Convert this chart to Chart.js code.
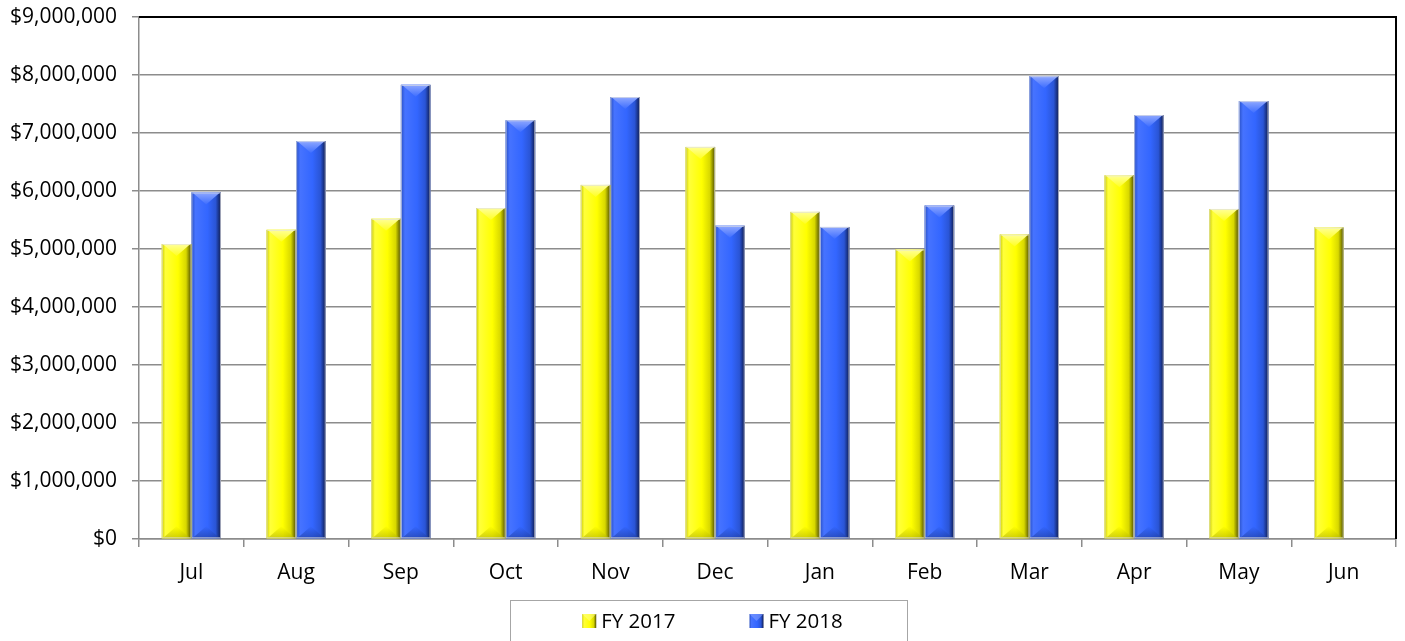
<!DOCTYPE html>
<html>
<head>
<meta charset="utf-8">
<script src="https://cdn.jsdelivr.net/npm/chart.js@4"></script>
<style>
  html, body { margin: 0; padding: 0; background: #ffffff; }
  #wrap { width: 1405px; height: 641px; position: relative; }
</style>
</head>
<body>
<div id="wrap"><canvas id="c" width="1405" height="641"></canvas></div>
<script>
const months = ['Jul','Aug','Sep','Oct','Nov','Dec','Jan','Feb','Mar','Apr','May','Jun'];
const fy2017 = [5085000, 5330000, 5520000, 5705000, 6105000, 6760000, 5640000, 4990000, 5250000, 6270000, 5690000, 5370000];
const fy2018 = [5975000, 6860000, 7830000, 7220000, 7620000, 5400000, 5380000, 5750000, 7980000, 7310000, 7550000, null];
const seriesNames = ['FY 2017', 'FY 2018'];
const yTickMin = 0, yTickMax = 9000000, yTickStep = 1000000;

const FONT = '"Open Sans", "Noto Sans", sans-serif';

const palettes = [
  { base: '#ffff00', stops: [[0,'#c9c900'],[0.12,'#ffff3a'],[0.55,'#ffff00'],[0.82,'#d8d800'],[1,'#4d4d00']],
    top: ['#ffff9a','#ffff20'], bottom: ['#b0b000','#ffff00'] },
  { base: '#3366ff', stops: [[0,'#284fc4'],[0.14,'#4673ff'],[0.55,'#3366ff'],[0.82,'#2a55d6'],[1,'#0d1a4d']],
    top: ['#8fa8ff','#3d6dff'], bottom: ['#1d3a99','#3366ff'] }
];

const bevelPlugin = {
  id: 'bevel',
  afterDatasetDraw(chart, args) {
    const ctx = chart.ctx;
    const meta = args.meta;
    const pal = palettes[args.index];
    ctx.save();
    const area = chart.chartArea;
    ctx.beginPath();
    ctx.rect(area.left, area.top, area.right - area.left, area.bottom - area.top + 1);
    ctx.clip();
    meta.data.forEach((el, i) => {
      const v = chart.data.datasets[args.index].data[i];
      if (v === null || v === undefined) return;
      const p = el.getProps(['x','y','base','width'], true);
      const l = p.x - p.width / 2, r = p.x + p.width / 2;
      const t = p.y, b = p.base;
      const g = ctx.createLinearGradient(l, 0, r, 0);
      pal.stops.forEach(s => g.addColorStop(s[0], s[1]));
      ctx.fillStyle = g;
      ctx.fillRect(l, t, r - l, b - t);
      const depth = Math.min(12, (r - l) * 0.42, (b - t) / 2);
      const gt = ctx.createLinearGradient(0, t, 0, t + depth);
      gt.addColorStop(0, pal.top[0]);
      gt.addColorStop(1, pal.top[1]);
      ctx.fillStyle = gt;
      ctx.beginPath();
      ctx.moveTo(l + 1, t);
      ctx.lineTo(r - 1, t);
      ctx.lineTo(p.x, t + depth);
      ctx.closePath();
      ctx.fill();
      const gb = ctx.createLinearGradient(0, b, 0, b - depth);
      gb.addColorStop(0, pal.bottom[0]);
      gb.addColorStop(1, pal.bottom[1]);
      ctx.fillStyle = gb;
      ctx.beginPath();
      ctx.moveTo(l + 1, b);
      ctx.lineTo(r - 1, b);
      ctx.lineTo(p.x, b - depth);
      ctx.closePath();
      ctx.globalAlpha = 0.6;
      ctx.fill();
      ctx.globalAlpha = 1;
      ctx.strokeStyle = 'rgba(225,225,225,0.7)';
      ctx.lineWidth = 1;
      ctx.strokeRect(l + 0.5, t + 0.5, r - l - 1, b - t - 1);
    });
    ctx.restore();
  }
};

const framePlugin = {
  id: 'frame',
  afterDraw(chart) {
    const ctx = chart.ctx;
    const a = chart.chartArea;
    ctx.save();
    ctx.strokeStyle = '#000000';
    ctx.lineWidth = 2;
    ctx.beginPath();
    ctx.moveTo(a.left, a.top);
    ctx.lineTo(a.right, a.top);
    ctx.lineTo(a.right, a.bottom);
    ctx.stroke();
    const cx = chart.width / 2 + 6;
    const boxW = 397;
    const boxTop = 600;
    ctx.strokeStyle = '#a6a6a6';
    ctx.lineWidth = 1;
    ctx.strokeRect(Math.round(cx - boxW / 2) + 0.5, boxTop + 0.5, boxW, 60);
    ctx.font = '20.5px ' + FONT;
    ctx.textBaseline = 'middle';
    ctx.textAlign = 'left';
    const sq = 14, gap = 5, itemGap = 74;
    const widths = chart.data.datasets.map(d => ctx.measureText(d.label).width);
    let total = 0;
    widths.forEach((w, i) => { total += sq + gap + w + (i ? itemGap : 0); });
    let x = cx - total / 2 + 4;
    const cy = 621;
    chart.data.datasets.forEach((d, i) => {
      const pal = palettes[i];
      const g = ctx.createLinearGradient(x, 0, x + sq, 0);
      pal.stops.forEach(s => g.addColorStop(s[0], s[1]));
      ctx.fillStyle = g;
      ctx.fillRect(x, cy - sq / 2, sq, sq);
      ctx.fillStyle = pal.top[0];
      ctx.beginPath();
      ctx.moveTo(x, cy - sq / 2);
      ctx.lineTo(x + sq, cy - sq / 2);
      ctx.lineTo(x + sq / 2, cy);
      ctx.closePath();
      ctx.globalAlpha = 0.5;
      ctx.fill();
      ctx.globalAlpha = 1;
      ctx.fillStyle = '#000000';
      ctx.fillText(d.label, x + sq + gap, cy + 1);
      x += sq + gap + widths[i] + itemGap;
    });
    ctx.restore();
  }
};

new Chart(document.getElementById('c'), {
  type: 'bar',
  data: {
    labels: months,
    datasets: [
      { label: seriesNames[0], data: fy2017, backgroundColor: palettes[0].base, borderWidth: 0 },
      { label: seriesNames[1], data: fy2018, backgroundColor: palettes[1].base, borderWidth: 0 }
    ]
  },
  options: {
    responsive: false,
    animation: false,
    events: [],
    layout: { padding: { left: 0, right: 9, top: 17, bottom: 42 } },
    datasets: { bar: { categoryPercentage: 0.565, barPercentage: 1.0 } },
    plugins: { legend: { display: false }, tooltip: { enabled: false } },
    scales: {
      x: {
        afterFit(scale) { scale.height = 60; scale.paddingLeft = 0; scale.paddingRight = 0; },
        grid: { drawOnChartArea: false, drawTicks: true, tickLength: 8, color: '#8c8c8c', lineWidth: 1.5, offset: true },
        border: { color: '#8c8c8c', width: 1.5 },
        ticks: { color: '#000000', font: { family: FONT, size: 21 }, padding: 13 }
      },
      y: {
        min: yTickMin, max: yTickMax,
        afterFit(scale) { scale.width = 139; scale.paddingTop = 0; scale.paddingBottom = 0; },
        grid: { color: '#8c8c8c', lineWidth: 1.5, tickLength: 7 },
        border: { color: '#8c8c8c', width: 1.5 },
        ticks: {
          stepSize: yTickStep,
          color: '#000000',
          font: { family: FONT, size: 21 },
          padding: 15,
          callback: v => '$' + Number(v).toLocaleString('en-US')
        }
      }
    }
  },
  plugins: [bevelPlugin, framePlugin]
});
</script>
</body>
</html>
